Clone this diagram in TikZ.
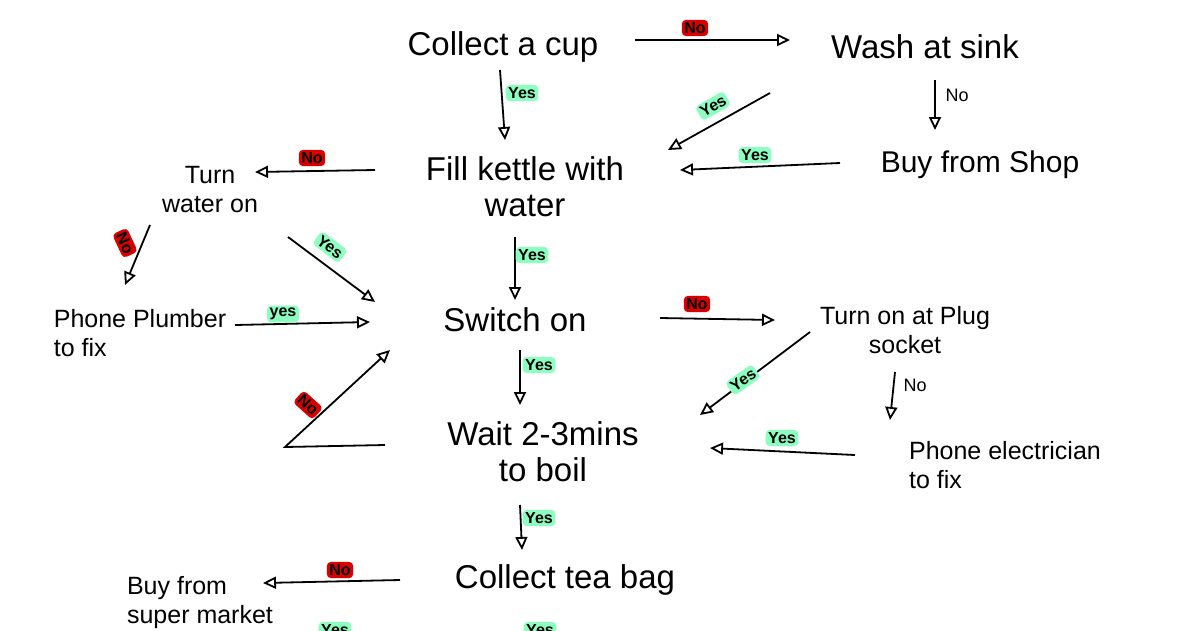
\documentclass[tikz,border=0pt]{standalone}
\usepackage{fontspec}
\setmainfont{Liberation Sans}
\usetikzlibrary{arrows.meta}
\begin{document}
\begin{tikzpicture}[x=1pt,y=-1pt,
  txt/.style={font=\fontsize{33}{36}\selectfont, align=center, inner sep=1pt},
  txtl/.style={font=\fontsize{25}{29}\selectfont, align=left, inner sep=1pt},
  arr/.style={line width=1.8pt, -{Triangle[open,length=13pt,width=12pt]}},
  nolab/.style={fill=red!85!black, font=\fontsize{16}{18}\selectfont\bfseries, inner sep=2.5pt, rounded corners=4pt},
  yeslab/.style={fill=green!55!cyan!45, font=\fontsize{16}{18}\selectfont\bfseries, inner sep=2.5pt, rounded corners=4pt},
  plain/.style={font=\fontsize{18}{20}\selectfont, inner sep=1pt}]
\useasboundingbox[fill=white] (0,0) rectangle (1188,630);
\begin{scope}
\clip (0,0) rectangle (1188,630);
\node[txt] (cup) at (503,47) {Collect a cup};
\node[txt] (wash) at (925,47) {Wash at sink};
\node[txt] (fill) at (525,187) {Fill kettle with\\water};
\node[txtl, font=\fontsize{30}{34}\selectfont] (shop) at (980,165) {Buy from Shop};
\node[txtl, align=center] (water) at (210,190) {Turn\\water on};
\node[txt] (sw) at (515,320) {Switch on};
\node[txtl, align=center] (plug) at (905,330) {Turn on at Plug\\socket};
\node[txtl] (plumb) at (140,333) {Phone Plumber\\to fix};
\node[txt] (wait) at (543,452) {Wait 2-3mins\\to boil};
\node[txtl] (elec) at (1005,465) {Phone electrician\\to fix};
\node[txt] (tea) at (565,580) {Collect tea bag};
\node[txtl, align=left] (super) at (200,603) {Buy from\\super market};

\coordinate (a1) at (635,40); \coordinate (b1) at (790,40);
\draw[arr] (a1) -- (b1); \node[nolab] at (695,28) {No};
\coordinate (a2) at (500,70); \coordinate (b2) at (505,140);
\draw[arr] (a2) -- (b2); \node[yeslab] at (522,93) {Yes};
\coordinate (a3) at (935,80); \coordinate (b3) at (935,130);
\draw[arr] (a3) -- (b3); \node[plain] at (957,95) {No};
\coordinate (a4) at (840,163); \coordinate (b4) at (680,170);
\draw[arr] (a4) -- (b4); \node[yeslab] at (755,155) {Yes};
\coordinate (a5) at (770,93); \coordinate (b5) at (668,150);
\draw[arr] (a5) -- (b5); \node[yeslab, rotate=30] at (713,106) {Yes};
\coordinate (a6) at (375,170); \coordinate (b6) at (255,172);
\draw[arr] (a6) -- (b6); \node[nolab] at (312,158) {No};
\coordinate (a7) at (515,237); \coordinate (b7) at (515,300);
\draw[arr] (a7) -- (b7); \node[yeslab] at (532,255) {Yes};
\coordinate (a8) at (150,225); \coordinate (b8) at (125,285);
\draw[arr] (a8) -- (b8); \node[nolab, rotate=-65] at (125,243) {No};
\coordinate (a9) at (288,237); \coordinate (b9) at (375,302);
\draw[arr] (a9) -- (b9); \node[yeslab, rotate=-37] at (330,247) {Yes};
\coordinate (a10) at (235,325); \coordinate (b10) at (370,322);
\draw[arr] (a10) -- (b10); \node[yeslab] at (283,314) {yes};
\coordinate (a11) at (660,318); \coordinate (b11) at (775,320);
\draw[arr] (a11) -- (b11); \node[nolab] at (697,304) {No};
\coordinate (a12) at (520,350); \coordinate (b12) at (520,405);
\draw[arr] (a12) -- (b12); \node[yeslab] at (539,365) {Yes};
\coordinate (a13) at (810,332); \coordinate (b13) at (700,415);
\draw[arr] (a13) -- (b13); \node[yeslab, rotate=35] at (743,380) {Yes};
\coordinate (a14) at (895,372); \coordinate (b14) at (890,420);
\draw[arr] (a14) -- (b14); \node[plain] at (915,385) {No};
\coordinate (a15) at (855,455); \coordinate (b15) at (710,448);
\draw[arr] (a15) -- (b15); \node[yeslab] at (782,438) {Yes};
\coordinate (a16) at (385,445); \coordinate (m16) at (285,447); \coordinate (b16) at (390,350);
\draw[arr] (a16) -- (m16) -- (b16); \node[nolab, rotate=-42] at (308,405) {No};
\coordinate (a17) at (520,505); \coordinate (b17) at (522,550);
\draw[arr] (a17) -- (b17); \node[yeslab] at (539,518) {Yes};
\coordinate (a18) at (400,580); \coordinate (b18) at (263,583);
\draw[arr] (a18) -- (b18); \node[nolab] at (340,570) {No};
\node[yeslab] at (335,630) {Yes};
\node[yeslab] at (540,630) {Yes};
\end{scope}
\end{tikzpicture}
\end{document}
